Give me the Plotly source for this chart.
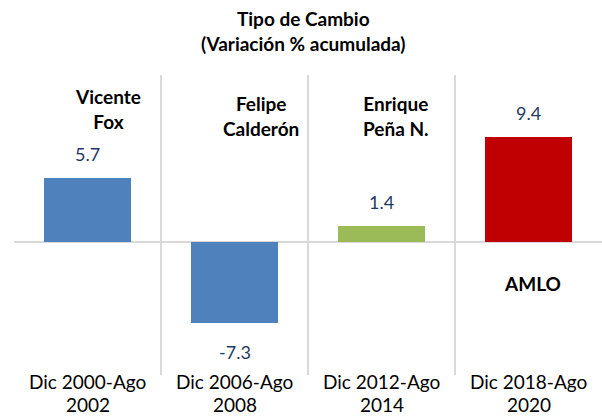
import plotly.graph_objects as go

categories = ["Dic 2000-Ago<br>2002", "Dic 2006-Ago<br>2008", "Dic 2012-Ago<br>2014", "Dic 2018-Ago<br>2020"]
values = [5.7, -7.3, 1.4, 9.4]
labels = ["5.7", "-7.3", "1.4", "9.4"]
presidents = ["Vicente<br>Fox", "Felipe<br>Calderón", "Enrique<br>Peña N.", "AMLO"]
colors = ["#4f81bd", "#4f81bd", "#9bbb59", "#c00000"]
title_text = "Tipo de Cambio<br>(Variación % acumulada)"

FONT = "Lato, 'Open Sans', sans-serif"
xs = list(range(len(categories)))

fig = go.Figure()
fig.add_trace(go.Bar(
    x=xs, y=values, marker=dict(color=colors, line=dict(width=0)),
    width=0.59, showlegend=False, hoverinfo="skip",
))
# invisible trace on secondary axis to draw category boundary gridlines
fig.add_trace(go.Scatter(x=[-0.5, 3.5], y=[0, 0], xaxis="x2", mode="none",
                         showlegend=False, hoverinfo="skip"))

# value labels
for i, (v, t) in enumerate(zip(values, labels)):
    fig.add_annotation(x=i, y=v, text=t, showarrow=False, yanchor="middle",
                       yshift=24 if v >= 0 else -29,
                       font=dict(family=FONT, size=18, color="#1f3864"))

# president names
name_pos = [(0.14, 11.9), (0.18, 11.3), (0.10, 11.3), (0.03, -3.8)]
for i, (name, (dx, y)) in enumerate(zip(presidents, name_pos)):
    fig.add_annotation(x=i + dx, y=y, text="<b>%s</b>" % name, showarrow=False,
                       yanchor="middle",
                       font=dict(family=FONT, size=19, color="#000000"))

# category labels (two lines each, placed under the axis)
for i, cat in enumerate(categories):
    for part, yp in zip(cat.split("<br>"), [-0.0233, -0.0967]):
        fig.add_annotation(x=i, xref="x", yref="paper", y=yp, text=part,
                           showarrow=False, yanchor="middle",
                           font=dict(family=FONT, size=19, color="#000000"))

# title
fig.add_annotation(xref="paper", yref="paper", x=0.4915, y=1.147,
                   text="<b>%s</b>" % title_text,
                   showarrow=False, xanchor="center", yanchor="middle",
                   font=dict(family=FONT, size=19, color="#000000"))

fig.update_layout(
    width=602, height=417,
    margin=dict(l=14, r=0, t=75, b=42, autoexpand=False),
    paper_bgcolor="white", plot_bgcolor="white",
    xaxis=dict(range=[-0.5, 3.5], tickvals=xs, showticklabels=False,
               showgrid=False, zeroline=False, showline=False, ticks=""),
    xaxis2=dict(range=[-0.5, 3.5], overlaying="x", tickvals=[-0.5, 0.5, 1.5, 2.5, 3.5],
                showgrid=True, gridcolor="#d9d9d9", gridwidth=2,
                showticklabels=False, zeroline=False, showline=False, ticks=""),
    yaxis=dict(range=[-12, 15], showgrid=False, zeroline=True, zerolinecolor="#d9d9d9",
               zerolinewidth=2, showticklabels=False, showline=False, ticks=""),
    bargap=0,
)

fig.write_html("out.html", config={"displayModeBar": False},
               post_script="document.body.style.margin='0';")
